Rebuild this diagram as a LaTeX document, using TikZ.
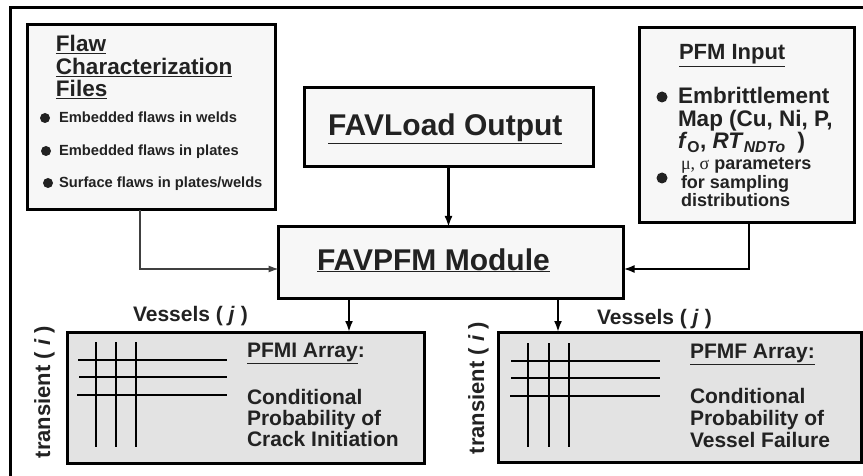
\documentclass[tikz,border=0pt]{standalone}
\usepackage{fontspec}
\setmainfont{Liberation Sans}
\newfontfamily\greekserif{Liberation Serif}
\usetikzlibrary{arrows.meta}
\definecolor{ink}{HTML}{222222}
\definecolor{topfill}{HTML}{F7F7F7}
\definecolor{arrfill}{HTML}{E3E3E3}
\begin{document}
\begin{tikzpicture}[x=1pt,y=-1pt,
  every node/.style={inner sep=0pt,outer sep=0pt,text=ink},
  boxstyle/.style={draw=black,line width=3pt,fill=#1,rectangle},
  thickarrow/.style={line width=2.6pt,-{Latex[length=11pt,width=8pt]}},
  thinarrow/.style={line width=1.1pt,draw=black!75,-{Latex[length=10pt,width=7pt]}},
  gridline/.style={line width=2pt},
  dotnode/.style={circle,fill=ink,minimum size=#1},
  tx/.style={anchor=base west,font=\bfseries\fontsize{#1}{#1}\selectfont},
]
\useasboundingbox (0,0) rectangle (863,476);
\fill[white] (0,0) rectangle (863,476);
\draw[line width=3pt] (10,482) -- (10,8) -- (870,8);

% boxes
\node[boxstyle=topfill,minimum width=248pt,minimum height=185pt] (flaw) at (151,117.5) {};
\node[boxstyle=topfill,minimum width=289pt,minimum height=79pt] (favload) at (448.5,127.5) {};
\node[boxstyle=topfill,minimum width=215pt,minimum height=195pt] (pfmin) at (746.5,125.5) {};
\node[boxstyle=topfill,minimum width=345pt,minimum height=71pt] (favpfm) at (451,262.5) {};
\node[boxstyle=arrfill,minimum width=357pt,minimum height=131pt] (pfmi) at (245.5,397.5) {};
\node[boxstyle=arrfill,minimum width=363pt,minimum height=130pt] (pfmf) at (679.5,397) {};

% connectors
\draw[thinarrow] ([xshift=-11pt]flaw.south) |- ([yshift=-6.5pt]favpfm.west);
\draw[thickarrow] (favload.south) -- (favload.south |- favpfm.north);
\draw[thickarrow] ([xshift=2.5pt]pfmin.south) |- ([yshift=-6.5pt]favpfm.east);
\draw[thickarrow] ([xshift=-102pt]favpfm.south) -- ([xshift=-102pt]favpfm.south |- pfmi.north);
\draw[thickarrow] ([xshift=107pt]favpfm.south) -- ([xshift=107pt]favpfm.south |- pfmf.north);

% flaw box text
\node[tx=22.5] (flawt1) at (56,52) {\underline{Flaw}};
\node[tx=22.5] (flawt2) at (56,75) {\underline{Characterization}};
\node[tx=22.5] (flawt3) at (56,97) {\underline{Files}};
\node[dotnode=10pt] (fb1) at (45,118) {};
\node[dotnode=10pt] (fb2) at (46,151) {};
\node[dotnode=10pt] (fb3) at (48,183) {};
\node[tx=14.7] (ft1) at (59,123) {Embedded flaws in welds};
\node[tx=14.7] (ft2) at (59,156) {Embedded flaws in plates};
\node[tx=14.7] (ft3) at (59,188) {Surface flaws in plates/welds};

% FAVLoad, FAVPFM
\node[tx=30] (favloadtext) at (328,136) {\underline{FAVLoad Output}};
\node[tx=30] (favpfmtext) at (317,270) {\underline{FAVPFM Module}};

% PFM input
\node[tx=22] (pfmtitle) at (679,60) {\underline{PFM Input}};
\node[dotnode=11pt] (pb1) at (662,97) {};
\node[dotnode=11pt] (pb2) at (662,178) {};
\node[tx=22.5] (pl1) at (678,104) {Embrittlement};
\node[tx=22.5] (pl2) at (678,127) {Map (Cu, Ni, P,};
\node[tx=22.5] (pl3) at (678,149) {\textit{f}\textsubscript{O}, \textit{RT}\textsubscript{\textit{NDTo}}\hspace{12pt})};
\node[tx=18] (pl4) at (681,170) {{\mdseries\greekserif μ, σ} parameters};
\node[tx=18] (pl5) at (681,189) {for sampling};
\node[tx=18] (pl6) at (681,207) {distributions};

% labels
\node[tx=21] (vj1) at (133,321) {Vessels ( \textit{j} )};
\node[tx=21] (vj2) at (597,324) {Vessels ( \textit{j} )};
\node[font=\bfseries\fontsize{22}{22}\selectfont,rotate=90,anchor=base] (ti1) at (50,392) {transient ( \textit{i} )};
\node[font=\bfseries\fontsize{22}{22}\selectfont,rotate=90,anchor=base] (ti2) at (484,388) {transient ( \textit{i} )};

% grids
\draw[gridline] (96,342) -- (96,447) (116,342) -- (116,447) (136,342) -- (136,447);
\draw[gridline] (78,360) -- (227,360) (79,377) -- (227,377) (77,395) -- (227,395);
\draw[gridline] (528,343) -- (528,447) (549,343) -- (549,447) (569,343) -- (569,447);
\draw[gridline] (511,361) -- (660,361) (511,378) -- (660,378) (510,396) -- (660,396);

% array texts
\node[tx=21] (pfmit) at (247,357) {\underline{PFMI Array}:};
\node[tx=21] (pfmib1) at (247,404) {Conditional};
\node[tx=21] (pfmib2) at (247,425) {Probability of};
\node[tx=21] (pfmib3) at (247,446) {Crack Initiation};
\node[tx=21] (pfmft) at (690,358) {\underline{PFMF Array:}};
\node[tx=21] (pfmfb1) at (690,403) {Conditional};
\node[tx=21] (pfmfb2) at (690,425) {Probability of};
\node[tx=21] (pfmfb3) at (690,447) {Vessel Failure};
\end{tikzpicture}
\end{document}
